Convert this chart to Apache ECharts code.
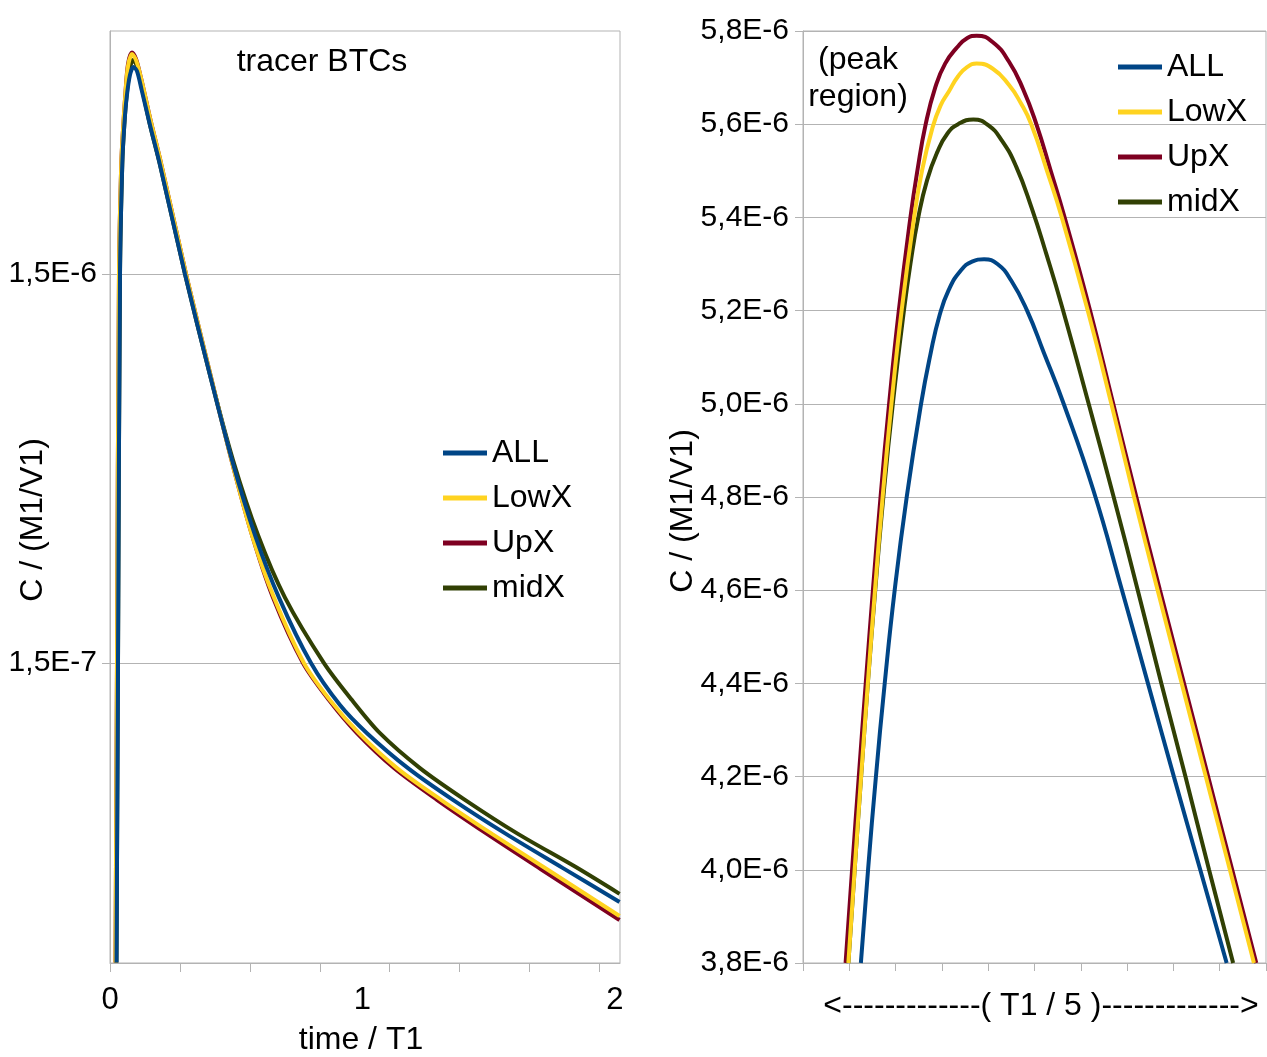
<!DOCTYPE html>
<html>

<head>
    <meta charset="utf-8">
    <title>tracer BTCs</title>
    <script src="https://cdn.jsdelivr.net/npm/echarts@6/dist/echarts.min.js"></script>
    <style>
        html, body {
            margin: 0;
            padding: 0;
            background: #fff;
        }

        #chart {
            width: 1267px;
            height: 1057px;
        }
    </style>
</head>

<body>
    <div id="chart"></div>
    <script>
        // left panel: time / T1 and C / (M1/V1)
        var tAll = [0.0257, 0.0317, 0.0396, 0.0487, 0.0566, 0.0661, 0.0792, 0.0931, 0.1069, 0.1255, 0.1584, 0.198, 0.297, 0.396, 0.4832, 0.5743, 0.6693, 0.796, 0.9109, 1.0178, 1.1802, 1.3584, 1.5683, 1.7941, 2.0182];
        var cAll = [2.55e-8, 1.5e-7, 1.5e-6, 2.89e-6, 3.62e-6, 4.27e-6, 4.87e-6, 5.10e-6, 4.98e-6, 4.45e-6, 3.62e-6, 2.86e-6, 1.5e-6, 8.25e-7, 4.99e-7, 3.20e-7, 2.21e-7, 1.5e-7, 1.17e-7, 9.91e-8, 8.06e-8, 6.68e-8, 5.46e-8, 4.46e-8, 3.65e-8];

        var tLowX = [0.0218, 0.0277, 0.0356, 0.0448, 0.0527, 0.0606, 0.0713, 0.0871, 0.103, 0.1228, 0.1604, 0.202, 0.301, 0.398, 0.481, 0.5624, 0.6495, 0.7683, 0.8713, 0.9861, 1.1366, 1.3109, 1.5129, 1.7307, 2.0182];
        var cLowX = [2.55e-8, 1.5e-7, 1.5e-6, 2.89e-6, 3.62e-6, 4.32e-6, 5.13e-6, 5.51e-6, 5.32e-6, 4.78e-6, 3.73e-6, 2.89e-6, 1.5e-6, 8.25e-7, 4.99e-7, 3.20e-7, 2.21e-7, 1.5e-7, 1.205e-7, 9.91e-8, 8.06e-8, 6.68e-8, 5.46e-8, 4.43e-8, 3.36e-8];

        var tUpX = [0.0218, 0.0277, 0.0356, 0.0448, 0.0527, 0.0606, 0.0713, 0.0871, 0.103, 0.1228, 0.1604, 0.202, 0.301, 0.398, 0.481, 0.5624, 0.6455, 0.7644, 0.8673, 0.978, 1.1248, 1.295, 1.493, 1.707, 2.0182];
        var cUpX = [2.55e-8, 1.5e-7, 1.5e-6, 2.89e-6, 3.62e-6, 4.32e-6, 5.19e-6, 5.56e-6, 5.35e-6, 4.78e-6, 3.73e-6, 2.89e-6, 1.5e-6, 8.25e-7, 4.99e-7, 3.20e-7, 2.21e-7, 1.5e-7, 1.205e-7, 9.91e-8, 8.06e-8, 6.68e-8, 5.46e-8, 4.43e-8, 3.28e-8];

        var tMidX = [0.0257, 0.0317, 0.0396, 0.0487, 0.0566, 0.0661, 0.0792, 0.0911, 0.105, 0.1248, 0.1584, 0.198, 0.297, 0.396, 0.4871, 0.5861, 0.6931, 0.8475, 0.9584, 1.0693, 1.2277, 1.4059, 1.6158, 1.8416, 2.0182];
        var cMidX = [2.55e-8, 1.5e-7, 1.5e-6, 2.89e-6, 3.62e-6, 4.32e-6, 5.07e-6, 5.32e-6, 5.16e-6, 4.56e-6, 3.62e-6, 2.86e-6, 1.5e-6, 8.25e-7, 4.99e-7, 3.20e-7, 2.21e-7, 1.5e-7, 1.205e-7, 9.91e-8, 8.06e-8, 6.68e-8, 5.46e-8, 4.50e-8, 3.83e-8];

        var leftXTicks = [0, 0.277, 0.554, 0.831, 1.108, 1.385, 1.662, 1.939];
        var leftXLabels = [0, 1, 2];
        var leftYLabels = [1.5e-7, 1.5e-6];

        // right panel: peak region (window of T1 / 5), C in 1E-6 (M1/V1)
        var xAllR = [1.25, 1.405, 1.575, 1.765, 1.98, 2.24, 2.55, 2.75, 2.95, 3.15, 3.40, 3.65, 3.91, 4.20, 4.50, 4.84, 5.20, 5.63, 6.27, 6.89, 7.45, 8.01, 8.58, 9.15];
        var yAllR = [3.80, 4.00, 4.20, 4.40, 4.60, 4.80, 5.00, 5.105, 5.19, 5.245, 5.285, 5.305, 5.31, 5.30, 5.264, 5.20, 5.11, 5.00, 4.815, 4.60, 4.40, 4.20, 4.00, 3.80];

        var xLowXR = [0.98, 1.115, 1.255, 1.40, 1.555, 1.72, 1.91, 2.13, 2.40, 2.57, 2.79, 2.97, 3.15, 3.35, 3.55, 3.75, 4.10, 4.45, 4.70, 4.93, 5.27, 5.59, 6.15, 6.66, 7.15, 7.66, 8.18, 8.70, 9.22, 9.74];
        var yLowXR = [3.80, 4.00, 4.20, 4.40, 4.60, 4.80, 5.00, 5.20, 5.40, 5.50, 5.59, 5.64, 5.67, 5.703, 5.723, 5.73, 5.719, 5.684, 5.646, 5.60, 5.50, 5.40, 5.20, 5.00, 4.80, 4.60, 4.40, 4.20, 4.00, 3.80];

        var xUpXR = [0.92, 1.06, 1.205, 1.355, 1.51, 1.675, 1.86, 2.07, 2.32, 2.47, 2.65, 2.86, 3.07, 3.33, 3.55, 3.75, 4.10, 4.45, 4.75, 5.04, 5.35, 5.65, 6.20, 6.70, 7.20, 7.71, 8.23, 8.75, 9.27, 9.79];
        var yUpXR = [3.80, 4.00, 4.20, 4.40, 4.60, 4.80, 5.00, 5.20, 5.40, 5.50, 5.60, 5.68, 5.73, 5.765, 5.785, 5.79, 5.776, 5.734, 5.676, 5.60, 5.50, 5.40, 5.20, 5.00, 4.80, 4.60, 4.40, 4.20, 4.00, 3.80];

        var xMidXR = [0.98, 1.115, 1.255, 1.40, 1.56, 1.735, 1.94, 2.18, 2.32, 2.49, 2.68, 2.90, 3.12, 3.35, 3.68, 4.00, 4.30, 4.60, 4.94, 5.26, 5.59, 6.17, 6.71, 7.23, 7.74, 8.26, 8.77, 9.29];
        var yMidXR = [3.80, 4.00, 4.20, 4.40, 4.60, 4.80, 5.00, 5.20, 5.30, 5.40, 5.48, 5.54, 5.58, 5.60, 5.61, 5.598, 5.564, 5.51, 5.42, 5.32, 5.21, 5.00, 4.80, 4.60, 4.40, 4.20, 4.00, 3.80];

        var names = ['ALL', 'LowX', 'UpX', 'midX'];
        var colors = { ALL: '#004586', LowX: '#ffd320', UpX: '#7e0021', midX: '#314004' };

        var FONT = '"Liberation Sans", Arial, sans-serif';
        var GRAY = '#b3b3b3';

        function logPairs(t, c) {
            return t.map(function (v, i) { return [v, Math.log10(c[i])]; });
        }

        function pairs(x, y) {
            return x.map(function (v, i) { return [v, y[i]]; });
        }

        function sciLabel(v) {
            var e = Math.floor(v + 1e-9);
            var m = Math.pow(10, v - e);
            return m.toFixed(1).replace('.', ',') + 'E' + e;
        }

        var leftData = {
            ALL: logPairs(tAll, cAll),
            LowX: logPairs(tLowX, cLowX),
            UpX: logPairs(tUpX, cUpX),
            midX: logPairs(tMidX, cMidX)
        };
        var rightData = {
            ALL: pairs(xAllR, yAllR),
            LowX: pairs(xLowXR, yLowXR),
            UpX: pairs(xUpXR, yUpXR),
            midX: pairs(xMidXR, yMidXR)
        };

        // drawing order: UpX at the back, ALL on top
        var drawOrder = ['UpX', 'midX', 'LowX', 'ALL'];
        var series = [];
        drawOrder.forEach(function (n) {
            series.push({
                name: n, type: 'line', xAxisIndex: 0, yAxisIndex: 0,
                data: leftData[n], showSymbol: false, symbol: 'none',
                smooth: 0.3, clip: true,
                lineStyle: { color: colors[n], width: 4 }, itemStyle: { color: colors[n] }
            });
            series.push({
                name: n, type: 'line', xAxisIndex: 1, yAxisIndex: 1,
                data: rightData[n], showSymbol: false, symbol: 'none',
                smooth: 0.5, clip: true,
                lineStyle: { color: colors[n], width: 4 }, itemStyle: { color: colors[n] }
            });
        });

        var leftYLog = leftYLabels.map(function (v) { return Math.log10(v); });

        function legendAt(left, top) {
            return {
                data: names, orient: 'vertical', left: left, top: top,
                icon: 'rect', itemWidth: 44, itemHeight: 5, itemGap: 9,
                selectedMode: false,
                textStyle: { fontFamily: FONT, fontSize: 32, color: '#000', lineHeight: 36 }
            };
        }

        var chart = echarts.init(document.getElementById('chart'));
        chart.setOption({
            animation: false,
            backgroundColor: '#fff',
            legend: [legendAt(438, 430), legendAt(1113, 44)],
            grid: [
                { left: 110, top: 31, width: 510, height: 932, show: true, borderColor: GRAY, borderWidth: 1, backgroundColor: '#fff' },
                { left: 803, top: 31, width: 463, height: 932, show: true, borderColor: GRAY, borderWidth: 1, backgroundColor: '#fff' }
            ],
            xAxis: [
                {
                    type: 'value', gridIndex: 0, min: 0, max: 2.02,
                    axisLine: { show: true, lineStyle: { color: GRAY } },
                    axisTick: { show: true, length: 9, customValues: leftXTicks, lineStyle: { color: GRAY } },
                    axisLabel: { customValues: leftXLabels, margin: 22, fontFamily: FONT, fontSize: 31, color: '#000' },
                    splitLine: { show: false }
                },
                {
                    type: 'value', gridIndex: 1, min: 0, max: 10, interval: 1,
                    axisLine: { show: true, lineStyle: { color: GRAY } },
                    axisTick: { show: true, length: 8, lineStyle: { color: GRAY } },
                    axisLabel: { show: false },
                    splitLine: { show: false }
                }
            ],
            yAxis: [
                {
                    type: 'value', gridIndex: 0, min: -7.5945, max: -5.1997,
                    axisLine: { show: true, lineStyle: { color: GRAY } },
                    axisTick: { show: true, length: 8, customValues: leftYLog, lineStyle: { color: GRAY } },
                    axisLabel: {
                        customValues: leftYLog, margin: 13, fontFamily: FONT, fontSize: 30, color: '#000',
                        formatter: sciLabel
                    },
                    splitLine: { show: true, lineStyle: { color: GRAY } }
                },
                {
                    type: 'value', gridIndex: 1, min: 3.8, max: 5.8, interval: 0.2,
                    axisLine: { show: true, lineStyle: { color: GRAY } },
                    axisTick: { show: true, length: 8, lineStyle: { color: GRAY } },
                    axisLabel: {
                        margin: 14, fontFamily: FONT, fontSize: 30, color: '#000',
                        formatter: function (v) { return v.toFixed(1).replace('.', ',') + 'E-6'; }
                    },
                    splitLine: { show: true, lineStyle: { color: GRAY } }
                }
            ],
            graphic: [
                { type: 'text', x: 322, y: 62, style: { text: 'tracer BTCs', font: '32px ' + FONT, fill: '#000', textAlign: 'center', textVerticalAlign: 'middle' } },
                { type: 'text', x: 858, y: 79, style: { text: '(peak\nregion)', font: '32px ' + FONT, lineHeight: 37, fill: '#000', textAlign: 'center', textVerticalAlign: 'middle' } },
                { type: 'text', x: 33, y: 520, rotation: Math.PI / 2, style: { text: 'C / (M1/V1)', font: '32px ' + FONT, fill: '#000', textAlign: 'center', textVerticalAlign: 'middle' } },
                { type: 'text', x: 683, y: 511, rotation: Math.PI / 2, style: { text: 'C / (M1/V1)', font: '32px ' + FONT, fill: '#000', textAlign: 'center', textVerticalAlign: 'middle' } },
                { type: 'text', x: 361, y: 1040, style: { text: 'time / T1', font: '32px ' + FONT, fill: '#000', textAlign: 'center', textVerticalAlign: 'middle' } },
                { type: 'text', x: 1041, y: 1006, style: { text: '<-------------( T1 / 5 )------------->', font: '32px ' + FONT, fill: '#000', textAlign: 'center', textVerticalAlign: 'middle' } }
            ],
            series: series
        });
    </script>
</body>

</html>
